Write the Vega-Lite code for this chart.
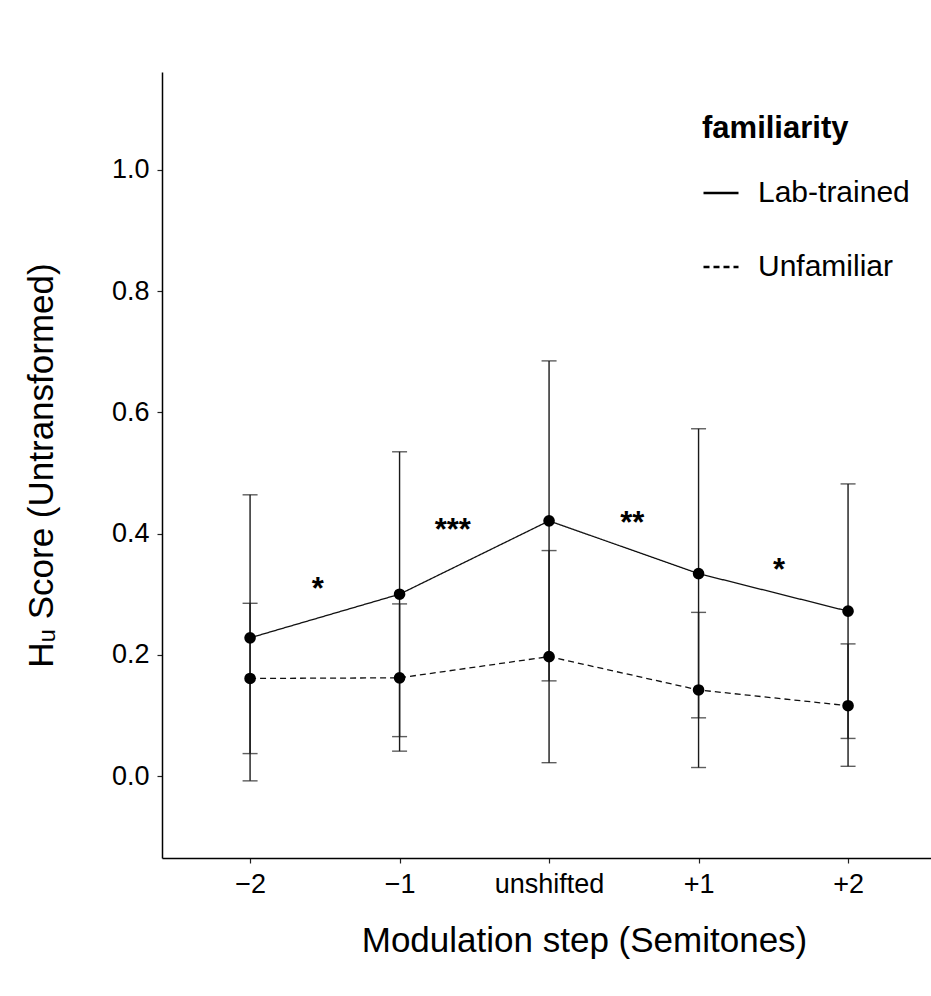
{
  "$schema": "https://vega.github.io/schema/vega-lite/v6.json",
  "autosize": {"type": "none"},
  "padding": {"left": 162, "top": 72, "right": 0, "bottom": 138},
  "width": 769,
  "height": 786,
  "background": "white",
  "config": {
    "view": {"stroke": null},
    "font": "Liberation Sans",
    "axis": {"grid": false, "labelColor": "black", "titleColor": "black", "titleFontWeight": "normal", "domainColor": "black", "domainWidth": 1.5, "tickColor": "#222", "tickWidth": 1.2, "tickSize": 5}
  },
  "layer": [
    {
      "data": {"values": [
        {"step": "−2", "familiarity": "Lab-trained", "mean": 0.228, "lo": -0.008, "hi": 0.464},
        {"step": "−1", "familiarity": "Lab-trained", "mean": 0.300, "lo": 0.065, "hi": 0.535},
        {"step": "unshifted", "familiarity": "Lab-trained", "mean": 0.421, "lo": 0.157, "hi": 0.685},
        {"step": "+1", "familiarity": "Lab-trained", "mean": 0.334, "lo": 0.096, "hi": 0.573},
        {"step": "+2", "familiarity": "Lab-trained", "mean": 0.272, "lo": 0.062, "hi": 0.482},
        {"step": "−2", "familiarity": "Unfamiliar", "mean": 0.161, "lo": 0.037, "hi": 0.285},
        {"step": "−1", "familiarity": "Unfamiliar", "mean": 0.162, "lo": 0.041, "hi": 0.284},
        {"step": "unshifted", "familiarity": "Unfamiliar", "mean": 0.197, "lo": 0.022, "hi": 0.372},
        {"step": "+1", "familiarity": "Unfamiliar", "mean": 0.142, "lo": 0.014, "hi": 0.270},
        {"step": "+2", "familiarity": "Unfamiliar", "mean": 0.116, "lo": 0.016, "hi": 0.218}
      ]},
      "encoding": {
        "x": {
          "field": "step", "type": "ordinal",
          "scale": {"type": "point", "domain": ["−2", "−1", "unshifted", "+1", "+2"], "padding": 0.572, "align": 0.515},
          "axis": {"title": "Modulation step (Semitones)", "titleFontSize": 35, "titlePadding": 26, "titleX": 422, "labelFontSize": 27, "labelAngle": 0, "labelPadding": 8}
        }
      },
      "layer": [
        {
          "mark": {"type": "rule", "color": "#1a1a1a", "strokeWidth": 1.4},
          "encoding": {
            "y": {"field": "lo", "type": "quantitative",
              "scale": {"domain": [-0.1353, 1.1617], "nice": false, "zero": false},
              "axis": {"title": "Hᵤ Score (Untransformed)", "titleFontSize": 35, "titlePadding": 52, "labelFontSize": 27, "labelPadding": 8, "values": [0, 0.2, 0.4, 0.6, 0.8, 1.0], "format": ".1f"}},
            "y2": {"field": "hi"}
          }
        },
        {
          "mark": {"type": "tick", "color": "#1a1a1a", "size": 15, "thickness": 1.4},
          "encoding": {"y": {"field": "lo", "type": "quantitative"}}
        },
        {
          "mark": {"type": "tick", "color": "#1a1a1a", "size": 15, "thickness": 1.4},
          "encoding": {"y": {"field": "hi", "type": "quantitative"}}
        },
        {
          "mark": {"type": "line", "color": "#111", "strokeWidth": 1.3},
          "encoding": {
            "y": {"field": "mean", "type": "quantitative"},
            "strokeDash": {
              "field": "familiarity", "type": "nominal",
              "scale": {"domain": ["Lab-trained", "Unfamiliar"], "range": [[1, 0], [6, 4]]},
              "legend": {
                "title": "familiarity", "orient": "none", "legendX": 540, "legendY": 42, "padding": 0,
                "titleFontSize": 31, "titleFontWeight": "bold", "titleColor": "black", "titlePadding": 29,
                "labelFontSize": 30, "labelColor": "black", "labelOffset": 18,
                "symbolType": "stroke", "symbolSize": 1225, "symbolStrokeWidth": 2.5, "symbolStrokeColor": "black",
                "rowPadding": 40
              }
            }
          }
        },
        {
          "mark": {"type": "point", "filled": true, "color": "black", "size": 135, "opacity": 1},
          "encoding": {"y": {"field": "mean", "type": "quantitative"}}
        }
      ]
    },
    {
      "data": {"values": [
        {"pos": 0.453, "val": 0.292, "label": "*"},
        {"pos": 1.356, "val": 0.389, "label": "***"},
        {"pos": 2.557, "val": 0.401, "label": "**"},
        {"pos": 3.538, "val": 0.323, "label": "*"}
      ]},
      "mark": {"type": "text", "fontSize": 31, "fontWeight": "bold", "color": "black", "baseline": "alphabetic", "align": "center"},
      "encoding": {
        "x": {"field": "pos", "type": "quantitative", "scale": {"domain": [-0.5886, 4.555], "nice": false, "zero": false}, "axis": null},
        "y": {"field": "val", "type": "quantitative"},
        "text": {"field": "label"}
      }
    }
  ],
  "resolve": {"scale": {"x": "independent"}}
}
